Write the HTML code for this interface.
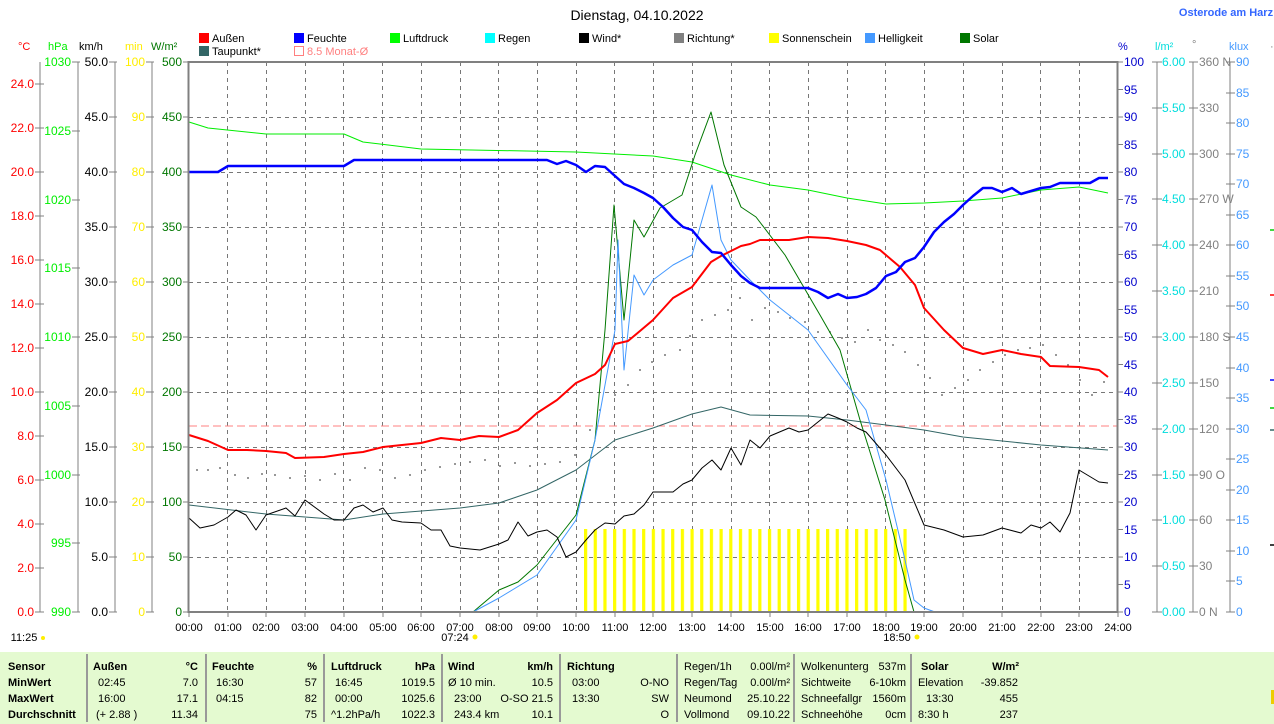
<!DOCTYPE html>
<html><head><meta charset="utf-8"><style>
html,body{margin:0;padding:0;background:#fff;}
svg{display:block;font-family:"Liberation Sans",sans-serif;}
</style></head><body>
<svg width="1274" height="724" xmlns="http://www.w3.org/2000/svg">
<defs>
<pattern id="sun" x="584" y="0" width="9.68" height="10" patternUnits="userSpaceOnUse"><rect x="0" y="0" width="3.2" height="10" fill="#ffff00"/></pattern>
</defs>
<rect width="1274" height="724" fill="#fff"/>
<text x="637" y="20" font-size="14" text-anchor="middle" fill="#000">Dienstag, 04.10.2022</text>
<text x="1226" y="16" font-size="11" font-weight="bold" text-anchor="middle" fill="#3366ff">Osterode am Harz</text>

<g font-size="11" fill="#000">
<rect x="199" y="33" width="10" height="10" fill="#ff0000"/><text x="212" y="42">Außen</text>
<rect x="294" y="33" width="10" height="10" fill="#0000ff"/><text x="307" y="42">Feuchte</text>
<rect x="390" y="33" width="10" height="10" fill="#00ff00"/><text x="403" y="42">Luftdruck</text>
<rect x="485" y="33" width="10" height="10" fill="#00ffff"/><text x="498" y="42">Regen</text>
<rect x="579" y="33" width="10" height="10" fill="#000"/><text x="592" y="42">Wind*</text>
<rect x="674" y="33" width="10" height="10" fill="#808080"/><text x="687" y="42">Richtung*</text>
<rect x="769" y="33" width="10" height="10" fill="#ffff00"/><text x="782" y="42">Sonnenschein</text>
<rect x="865" y="33" width="10" height="10" fill="#4499ff"/><text x="878" y="42">Helligkeit</text>
<rect x="960" y="33" width="10" height="10" fill="#007700"/><text x="973" y="42">Solar</text>
<rect x="199" y="46" width="10" height="10" fill="#336666"/><text x="212" y="55">Taupunkt*</text>
<rect x="294.5" y="46.5" width="9" height="9" fill="none" stroke="#ff8080"/><text x="307" y="55" fill="#ff8080">8.5 Monat-Ø</text>
</g>

<g font-size="11">
<text x="18" y="50" fill="#ff0000">°C</text>
<text x="48" y="50" fill="#00ee00">hPa</text>
<text x="79" y="50" fill="#000">km/h</text>
<text x="125" y="50" fill="#ffee00">min</text>
<text x="151" y="50" fill="#007700">W/m²</text>
<text x="1118" y="50" fill="#0000cc">%</text>
<text x="1155" y="50" fill="#00dddd">l/m²</text>
<text x="1192" y="48" fill="#808080">°</text>
<text x="1229" y="50" fill="#4499ff">klux</text>
<text x="1270" y="50" fill="#808080">·</text>
</g>

<rect x="189" y="62" width="929" height="550" fill="#fff"/>
<g stroke="#777" stroke-width="1" stroke-dasharray="4,4">
<path d="M189 117.5H1118M189 172.5H1118M189 227.5H1118M189 282.5H1118M189 337.5H1118M189 392.5H1118M189 447.5H1118M189 502.5H1118M189 557.5H1118"/>
<path d="M227.5 62V612M266.5 62V612M305.5 62V612M343.5 62V612M382.5 62V612M421.5 62V612M460.5 62V612M498.5 62V612M537.5 62V612M576.5 62V612M614.5 62V612M653.5 62V612M692.5 62V612M731.5 62V612M769.5 62V612M808.5 62V612M847.5 62V612M885.5 62V612M924.5 62V612M963.5 62V612M1002.5 62V612M1040.5 62V612M1079.5 62V612"/>
</g>
<line x1="189" y1="426" x2="1118" y2="426" stroke="#ff8080" stroke-dasharray="8,4"/>

<rect x="584" y="529" width="325" height="83" fill="url(#sun)"/>

<g fill="#777">
<circle cx="197" cy="470" r="1"/><circle cx="208" cy="470" r="1"/><circle cx="220" cy="468" r="1"/><circle cx="235" cy="475" r="1"/><circle cx="248" cy="478" r="1"/><circle cx="262" cy="474" r="1"/><circle cx="275" cy="475" r="1"/><circle cx="290" cy="478" r="1"/><circle cx="305" cy="476" r="1"/><circle cx="320" cy="480" r="1"/><circle cx="335" cy="474" r="1"/><circle cx="350" cy="480" r="1"/><circle cx="365" cy="468" r="1"/><circle cx="380" cy="470" r="1"/><circle cx="395" cy="478" r="1"/><circle cx="410" cy="475" r="1"/><circle cx="425" cy="470" r="1"/><circle cx="440" cy="467" r="1"/><circle cx="455" cy="464" r="1"/><circle cx="470" cy="462" r="1"/><circle cx="485" cy="460" r="1"/><circle cx="500" cy="466" r="1"/><circle cx="515" cy="463" r="1"/><circle cx="530" cy="466" r="1"/><circle cx="545" cy="464" r="1"/><circle cx="560" cy="462" r="1"/><circle cx="575" cy="455" r="1"/><circle cx="590" cy="430" r="1"/><circle cx="600" cy="410" r="1"/><circle cx="615" cy="395" r="1"/><circle cx="628" cy="385" r="1"/><circle cx="640" cy="370" r="1"/><circle cx="652" cy="362" r="1"/><circle cx="665" cy="355" r="1"/><circle cx="680" cy="350" r="1"/><circle cx="690" cy="336" r="1"/><circle cx="702" cy="320" r="1"/><circle cx="715" cy="315" r="1"/><circle cx="728" cy="310" r="1"/><circle cx="740" cy="298" r="1"/><circle cx="752" cy="320" r="1"/><circle cx="765" cy="308" r="1"/><circle cx="778" cy="312" r="1"/><circle cx="790" cy="318" r="1"/><circle cx="805" cy="322" r="1"/><circle cx="818" cy="332" r="1"/><circle cx="830" cy="332" r="1"/><circle cx="842" cy="338" r="1"/><circle cx="855" cy="342" r="1"/><circle cx="868" cy="330" r="1"/><circle cx="880" cy="340" r="1"/><circle cx="893" cy="345" r="1"/><circle cx="905" cy="352" r="1"/><circle cx="918" cy="365" r="1"/><circle cx="930" cy="378" r="1"/><circle cx="942" cy="395" r="1"/><circle cx="955" cy="388" r="1"/><circle cx="968" cy="380" r="1"/><circle cx="980" cy="370" r="1"/><circle cx="993" cy="362" r="1"/><circle cx="1005" cy="355" r="1"/><circle cx="1018" cy="350" r="1"/><circle cx="1030" cy="348" r="1"/><circle cx="1043" cy="345" r="1"/><circle cx="1056" cy="355" r="1"/><circle cx="1068" cy="365" r="1"/><circle cx="1080" cy="380" r="1"/><circle cx="1092" cy="395" r="1"/><circle cx="1104" cy="382" r="1"/>
</g>

<g fill="none" stroke-linejoin="round">
<polyline stroke="#00ee00" stroke-width="1" points="189,122 208,128 266,134 344,134 363,142 421,149 576,152 653,156 692,162 731,175 770,185 808,190 847,198 886,204 924,203 963,201 1002,198 1041,190 1079,187 1108,193"/>
<polyline stroke="#336666" stroke-width="1" points="189,505 266,514 344,520 383,514 460,508 499,503 537,490 576,470 615,440 653,428 692,414 721,407 750,415 808,416 847,420 886,425 924,430 963,437 1041,445 1108,450"/>
<polyline stroke="#007700" stroke-width="1" points="473,612 499,590 518,582 537,565 576,515 595,440 605,330 614,205 624,320 634,220 644,237 660,208 682,195 695,155 711,112 724,165 741,207 756,217 785,255 820,315 840,350 860,420 885,500 905,580 914,612"/>
<polyline stroke="#4499ff" stroke-width="1" points="473,612 499,598 537,575 576,520 595,440 615,330 618,240 624,370 634,275 644,295 653,280 673,265 692,255 702,220 712,185 721,240 731,260 750,280 770,300 808,330 847,385 866,410 886,480 905,560 914,600 924,608 935,612"/>
<polyline stroke="#000" stroke-width="1" points="189,518 200,528 214,525 228,517 236,510 246,515 256,530 266,515 286,508 295,516 305,500 324,514 334,520 344,520 354,508 363,505 373,512 383,508 392,520 402,522 421,523 431,530 441,530 450,546 460,548 480,550 499,544 508,540 518,522 528,536 537,532 547,530 557,537 566,557 576,552 586,540 595,530 605,523 615,524 624,516 634,514 644,505 653,492 673,492 683,484 692,480 702,468 712,460 721,470 731,448 741,465 750,440 760,448 770,436 789,428 799,432 808,430 818,422 828,414 838,418 847,422 857,428 866,432 886,455 905,480 924,525 944,530 963,537 983,535 1002,528 1021,533 1031,525 1041,528 1050,522 1060,532 1070,513 1079,470 1099,482 1108,483"/>
<polyline stroke="#ff0000" stroke-width="2" points="189,435 208,441 228,450 247,450 266,451 286,453 295,458 324,457 344,454 363,452 383,447 402,445 421,443 441,438 460,440 479,436 499,437 518,430 537,413 557,400 576,383 595,374 605,365 615,344 628,341 634,336 653,320 673,298 692,287 711,262 721,256 741,246 750,244 760,240 770,240 789,240 808,237 828,238 847,241 866,245 880,250 900,267 915,285 924,308 944,330 963,348 983,354 1002,350 1021,354 1041,357 1050,366 1079,367 1099,370 1108,377"/>
<polyline stroke="#0000ff" stroke-width="2.5" points="189,172 218,172 228,166 344,166 354,160 547,160 557,164 566,161 576,165 586,172 595,166 605,167 615,176 624,184 634,188 644,193 653,198 663,207 673,218 683,227 692,230 702,242 712,252 721,253 731,265 741,276 750,283 760,288 808,288 818,292 828,298 838,294 847,298 857,297 866,294 876,288 886,276 896,272 905,262 915,258 924,247 934,232 944,222 954,214 963,205 973,196 983,188 992,188 1002,192 1012,188 1021,194 1041,188 1050,187 1060,183 1079,183 1090,183 1099,178 1108,178"/>
</g>

<g stroke="#808080" fill="none">
<rect x="188.5" y="62" width="929" height="550" stroke-width="2"/>
<line x1="40" y1="62" x2="40" y2="612"/>
<line x1="78" y1="62" x2="78" y2="612"/>
<line x1="115" y1="62" x2="115" y2="612"/>
<line x1="152" y1="62" x2="152" y2="612"/>
<line x1="1157" y1="62" x2="1157" y2="612"/>
<line x1="1193" y1="62" x2="1193" y2="612"/>
<line x1="1230" y1="62" x2="1230" y2="612"/>
<path d="M35 612H44M35 568H44M35 524H44M35 480H44M35 436H44M35 392H44M35 348H44M35 304H44M35 260H44M35 216H44M35 172H44M35 128H44M35 84H44"/>
<path d="M72 612H80M72 543H80M72 475H80M72 406H80M72 337H80M72 268H80M72 200H80M72 131H80M72 62H80"/>
<path d="M109 612H117M109 557H117M109 502H117M109 447H117M109 392H117M109 337H117M109 282H117M109 227H117M109 172H117M109 117H117M109 62H117"/>
<path d="M146 612H154M146 557H154M146 502H154M146 447H154M146 392H154M146 337H154M146 282H154M146 227H154M146 172H154M146 117H154M146 62H154"/>
<path d="M183 612H189M183 557H189M183 502H189M183 447H189M183 392H189M183 337H189M183 282H189M183 227H189M183 172H189M183 117H189M183 62H189"/>
<path d="M1118 612H1123M1118 584.5H1123M1118 557H1123M1118 529.5H1123M1118 502H1123M1118 474.5H1123M1118 447H1123M1118 419.5H1123M1118 392H1123M1118 364.5H1123M1118 337H1123M1118 309.5H1123M1118 282H1123M1118 254.5H1123M1118 227H1123M1118 199.5H1123M1118 172H1123M1118 144.5H1123M1118 117H1123M1118 89.5H1123M1118 62H1123"/>
<path d="M1152 612H1162M1152 566H1162M1152 520H1162M1152 475H1162M1152 429H1162M1152 383H1162M1152 337H1162M1152 291H1162M1152 245H1162M1152 199H1162M1152 154H1162M1152 108H1162M1152 62H1162"/>
<path d="M1189 612H1198M1189 566H1198M1189 520H1198M1189 475H1198M1189 429H1198M1189 383H1198M1189 337H1198M1189 291H1198M1189 245H1198M1189 199H1198M1189 154H1198M1189 108H1198M1189 62H1198"/>
<path d="M1226 612H1235M1226 581H1235M1226 551H1235M1226 520H1235M1226 490H1235M1226 459H1235M1226 429H1235M1226 398H1235M1226 368H1235M1226 337H1235M1226 306H1235M1226 276H1235M1226 245H1235M1226 215H1235M1226 184H1235M1226 154H1235M1226 123H1235M1226 93H1235M1226 62H1235"/>
<path d="M189 612V617M228 612V617M266 612V617M305 612V617M344 612V617M383 612V617M421 612V617M460 612V617M499 612V617M537 612V617M576 612V617M615 612V617M653 612V617M692 612V617M731 612V617M770 612V617M808 612V617M847 612V617M886 612V617M924 612V617M963 612V617M1002 612V617M1041 612V617M1079 612V617M1118 612V617"/>
</g>

<g font-size="12" text-anchor="end">
<g fill="#ff0000"><text x="34" y="616">0.0</text><text x="34" y="572">2.0</text><text x="34" y="528">4.0</text><text x="34" y="484">6.0</text><text x="34" y="440">8.0</text><text x="34" y="396">10.0</text><text x="34" y="352">12.0</text><text x="34" y="308">14.0</text><text x="34" y="264">16.0</text><text x="34" y="220">18.0</text><text x="34" y="176">20.0</text><text x="34" y="132">22.0</text><text x="34" y="88">24.0</text></g>
<g fill="#00ee00"><text x="71" y="616">990</text><text x="71" y="547">995</text><text x="71" y="479">1000</text><text x="71" y="410">1005</text><text x="71" y="341">1010</text><text x="71" y="272">1015</text><text x="71" y="204">1020</text><text x="71" y="135">1025</text><text x="71" y="66">1030</text></g>
<g fill="#000"><text x="108" y="616">0.0</text><text x="108" y="561">5.0</text><text x="108" y="506">10.0</text><text x="108" y="451">15.0</text><text x="108" y="396">20.0</text><text x="108" y="341">25.0</text><text x="108" y="286">30.0</text><text x="108" y="231">35.0</text><text x="108" y="176">40.0</text><text x="108" y="121">45.0</text><text x="108" y="66">50.0</text></g>
<g fill="#ffee00"><text x="145" y="616">0</text><text x="145" y="561">10</text><text x="145" y="506">20</text><text x="145" y="451">30</text><text x="145" y="396">40</text><text x="145" y="341">50</text><text x="145" y="286">60</text><text x="145" y="231">70</text><text x="145" y="176">80</text><text x="145" y="121">90</text><text x="145" y="66">100</text></g>
<g fill="#007700"><text x="182" y="616">0</text><text x="182" y="561">50</text><text x="182" y="506">100</text><text x="182" y="451">150</text><text x="182" y="396">200</text><text x="182" y="341">250</text><text x="182" y="286">300</text><text x="182" y="231">350</text><text x="182" y="176">400</text><text x="182" y="121">450</text><text x="182" y="66">500</text></g>
</g>
<g font-size="12" text-anchor="start">
<g fill="#0000cc"><text x="1124" y="616">0</text><text x="1124" y="589">5</text><text x="1124" y="561">10</text><text x="1124" y="534">15</text><text x="1124" y="506">20</text><text x="1124" y="479">25</text><text x="1124" y="451">30</text><text x="1124" y="424">35</text><text x="1124" y="396">40</text><text x="1124" y="369">45</text><text x="1124" y="341">50</text><text x="1124" y="314">55</text><text x="1124" y="286">60</text><text x="1124" y="259">65</text><text x="1124" y="231">70</text><text x="1124" y="204">75</text><text x="1124" y="176">80</text><text x="1124" y="149">85</text><text x="1124" y="121">90</text><text x="1124" y="94">95</text><text x="1124" y="66">100</text></g>
<g fill="#00dddd"><text x="1162" y="616">0.00</text><text x="1162" y="570">0.50</text><text x="1162" y="524">1.00</text><text x="1162" y="479">1.50</text><text x="1162" y="433">2.00</text><text x="1162" y="387">2.50</text><text x="1162" y="341">3.00</text><text x="1162" y="295">3.50</text><text x="1162" y="249">4.00</text><text x="1162" y="203">4.50</text><text x="1162" y="158">5.00</text><text x="1162" y="112">5.50</text><text x="1162" y="66">6.00</text></g>
<g fill="#808080"><text x="1199" y="616">0 N</text><text x="1199" y="570">30</text><text x="1199" y="524">60</text><text x="1199" y="479">90 O</text><text x="1199" y="433">120</text><text x="1199" y="387">150</text><text x="1199" y="341">180 S</text><text x="1199" y="295">210</text><text x="1199" y="249">240</text><text x="1199" y="203">270 W</text><text x="1199" y="158">300</text><text x="1199" y="112">330</text><text x="1199" y="66">360 N</text></g>
<g fill="#4499ff"><text x="1236" y="616">0</text><text x="1236" y="585">5</text><text x="1236" y="555">10</text><text x="1236" y="524">15</text><text x="1236" y="494">20</text><text x="1236" y="463">25</text><text x="1236" y="433">30</text><text x="1236" y="402">35</text><text x="1236" y="372">40</text><text x="1236" y="341">45</text><text x="1236" y="310">50</text><text x="1236" y="280">55</text><text x="1236" y="249">60</text><text x="1236" y="219">65</text><text x="1236" y="188">70</text><text x="1236" y="158">75</text><text x="1236" y="127">80</text><text x="1236" y="97">85</text><text x="1236" y="66">90</text></g>
</g>
<g stroke-width="1.5">
<line x1="1270" y1="295" x2="1274" y2="295" stroke="#ff0000"/>
<line x1="1270" y1="380" x2="1274" y2="380" stroke="#0000ff"/>
<line x1="1270" y1="408" x2="1274" y2="408" stroke="#00cc00"/>
<line x1="1270" y1="230" x2="1274" y2="230" stroke="#00cc00"/>
<line x1="1270" y1="430" x2="1274" y2="430" stroke="#336666"/>
<line x1="1270" y1="545" x2="1274" y2="545" stroke="#000"/>
</g>

<g font-size="11" fill="#000" text-anchor="middle">
<text x="189" y="631">00:00</text><text x="228" y="631">01:00</text><text x="266" y="631">02:00</text><text x="305" y="631">03:00</text><text x="344" y="631">04:00</text><text x="383" y="631">05:00</text><text x="421" y="631">06:00</text><text x="460" y="631">07:00</text><text x="499" y="631">08:00</text><text x="537" y="631">09:00</text><text x="576" y="631">10:00</text><text x="615" y="631">11:00</text><text x="653" y="631">12:00</text><text x="692" y="631">13:00</text><text x="731" y="631">14:00</text><text x="770" y="631">15:00</text><text x="808" y="631">16:00</text><text x="847" y="631">17:00</text><text x="886" y="631">18:00</text><text x="924" y="631">19:00</text><text x="963" y="631">20:00</text><text x="1002" y="631">21:00</text><text x="1041" y="631">22:00</text><text x="1079" y="631">23:00</text><text x="1118" y="631">24:00</text>
<text x="455" y="641">07:24</text><text x="897" y="641">18:50</text>
<text x="24" y="641">11:25</text>
</g>
<circle cx="475" cy="637" r="2.5" fill="#ffee00"/><circle cx="917" cy="637" r="2.5" fill="#ffee00"/><circle cx="43" cy="638" r="2" fill="#ffee00"/>

<rect x="0" y="652" width="1274" height="72" fill="#e4fad0"/>
<g stroke="#999" stroke-width="2">
<line x1="87" y1="654" x2="87" y2="722"/><line x1="206" y1="654" x2="206" y2="722"/><line x1="324" y1="654" x2="324" y2="722"/><line x1="442" y1="654" x2="442" y2="722"/><line x1="560" y1="654" x2="560" y2="722"/><line x1="677" y1="654" x2="677" y2="722"/><line x1="794" y1="654" x2="794" y2="722"/><line x1="911" y1="654" x2="911" y2="722"/>
</g>
<g font-size="11" fill="#000">
<g font-weight="bold"><text x="8" y="670">Sensor</text><text x="8" y="686">MinWert</text><text x="8" y="702">MaxWert</text><text x="8" y="718">Durchschnitt</text>
<text x="93" y="670">Außen</text><text x="212" y="670">Feuchte</text><text x="331" y="670">Luftdruck</text><text x="448" y="670">Wind</text><text x="567" y="670">Richtung</text><text x="921" y="670">Solar</text></g>
<g font-weight="bold" text-anchor="end"><text x="198" y="670">°C</text><text x="317" y="670">%</text><text x="435" y="670">hPa</text><text x="553" y="670">km/h</text><text x="1019" y="670">W/m²</text></g>
<text x="98" y="686">02:45</text><text x="98" y="702">16:00</text><text x="96" y="718">(+ 2.88 )</text>
<g text-anchor="end"><text x="198" y="686">7.0</text><text x="198" y="702">17.1</text><text x="198" y="718">11.34</text>
<text x="317" y="686">57</text><text x="317" y="702">82</text><text x="317" y="718">75</text>
<text x="435" y="686">1019.5</text><text x="435" y="702">1025.6</text><text x="435" y="718">1022.3</text>
<text x="553" y="686">10.5</text><text x="553" y="702">O-SO 21.5</text><text x="553" y="718">10.1</text>
<text x="669" y="686">O-NO</text><text x="669" y="702">SW</text><text x="669" y="718">O</text>
<text x="790" y="670">0.00l/m²</text><text x="790" y="686">0.00l/m²</text><text x="790" y="702">25.10.22</text><text x="790" y="718">09.10.22</text>
<text x="906" y="670">537m</text><text x="906" y="686">6-10km</text><text x="906" y="702">1560m</text><text x="906" y="718">0cm</text>
<text x="1018" y="686">-39.852</text><text x="1018" y="702">455</text><text x="1018" y="718">237</text></g>
<text x="216" y="686">16:30</text><text x="216" y="702">04:15</text>
<text x="335" y="686">16:45</text><text x="335" y="702">00:00</text><text x="331" y="718">^1.2hPa/h</text>
<text x="448" y="686">Ø 10 min.</text><text x="454" y="702">23:00</text><text x="454" y="718">243.4 km</text>
<text x="572" y="686">03:00</text><text x="572" y="702">13:30</text>
<text x="684" y="670">Regen/1h</text><text x="684" y="686">Regen/Tag</text><text x="684" y="702">Neumond</text><text x="684" y="718">Vollmond</text>
<text x="801" y="670">Wolkenunterg</text><text x="801" y="686">Sichtweite</text><text x="801" y="702">Schneefallgr</text><text x="801" y="718">Schneehöhe</text>
<text x="918" y="686">Elevation</text><text x="926" y="702">13:30</text><text x="918" y="718">8:30 h</text>
</g>
<rect x="1271" y="690" width="3" height="14" fill="#eecc00"/>
</svg>
</body></html>
